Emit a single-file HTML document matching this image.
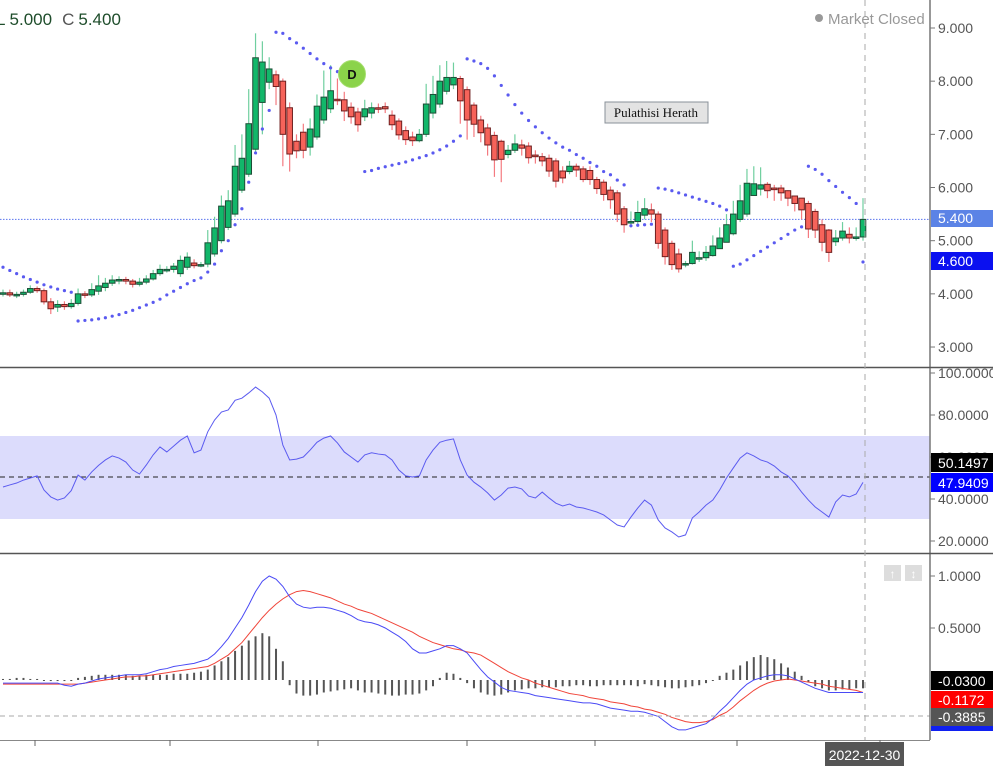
<!DOCTYPE html>
<html><head><meta charset="utf-8">
<style>
html,body{margin:0;padding:0;background:#fff;}
svg{display:block;font-family:"Liberation Sans",sans-serif;}
</style></head>
<body>
<svg id="chart" width="993" height="766" viewBox="0 0 993 766">
  <rect x="0" y="0" width="993" height="766" fill="#fff"/>
  <rect x="0" y="436" width="930" height="83" fill="#dcdcfc"/>
  <g id="price"></g><g id="rsi"></g><g id="macd"></g><g id="axes"></g>
</svg>
<script>
const openP=[4.00,4.02,3.98,3.99,4.03,4.10,4.06,3.85,3.75,3.80,3.76,3.82,4.00,3.98,4.05,4.12,4.20,4.26,4.27,4.24,4.18,4.22,4.28,4.38,4.46,4.46,4.38,4.50,4.58,4.55,4.56,4.75,5.00,5.25,5.50,5.95,6.25,6.72,7.60,7.98,8.12,8.00,7.50,6.87,7.04,6.76,6.95,7.27,7.48,7.66,7.65,7.51,7.42,7.33,7.40,7.50,7.52,7.36,7.25,7.07,6.95,6.88,7.00,7.40,7.57,7.81,7.93,8.05,7.84,7.55,7.27,7.12,6.98,6.87,6.62,6.70,6.80,6.78,6.61,6.58,6.55,6.50,6.31,6.30,6.40,6.35,6.32,6.15,6.10,5.95,5.90,5.60,5.35,5.36,5.48,5.58,5.50,5.20,4.95,4.75,4.57,4.57,4.68,4.68,4.72,4.85,4.97,5.13,5.40,5.50,5.85,5.97,6.06,5.99,5.99,5.94,5.84,5.80,5.70,5.55,5.30,5.20,4.98,5.05,5.12,5.07,5.07];
const closeP=[4.02,3.98,3.99,4.03,4.10,4.06,3.85,3.72,3.80,3.76,3.82,4.00,3.98,4.08,4.15,4.20,4.26,4.27,4.24,4.18,4.22,4.28,4.38,4.46,4.46,4.52,4.63,4.69,4.53,4.55,4.96,5.24,5.65,5.75,6.40,6.55,7.20,8.44,8.36,8.23,7.90,7.00,6.63,6.69,6.70,7.10,7.53,7.70,7.82,7.64,7.44,7.33,7.18,7.48,7.50,7.49,7.48,7.18,6.99,6.90,6.88,7.00,7.57,7.75,8.00,8.07,8.07,7.63,7.27,7.19,7.03,6.80,6.52,6.53,6.70,6.82,6.74,6.56,6.58,6.50,6.31,6.12,6.18,6.40,6.33,6.15,6.15,5.98,5.87,5.77,5.50,5.30,5.36,5.53,5.60,5.50,4.95,4.70,4.55,4.47,4.57,4.78,4.68,4.78,4.90,5.05,5.30,5.50,5.75,6.08,6.07,6.05,5.94,5.96,5.90,5.80,5.70,5.58,5.22,5.20,4.97,4.78,5.05,5.18,5.05,5.07,5.40];
const highP=[4.08,4.08,4.04,4.08,4.16,4.14,4.10,3.92,3.88,3.86,3.90,4.10,4.05,4.20,4.35,4.30,4.35,4.33,4.32,4.28,4.30,4.35,4.45,4.55,4.52,4.58,4.72,4.78,4.65,4.60,5.20,5.45,5.85,5.95,6.80,7.00,7.85,8.90,8.75,8.45,8.20,8.05,7.60,7.00,7.20,7.30,7.75,8.20,8.30,8.05,7.80,7.60,7.50,7.65,7.60,7.58,7.60,7.45,7.30,7.15,7.05,7.10,7.95,8.10,8.30,8.38,8.35,8.10,7.90,7.60,7.35,7.20,7.05,6.90,6.80,7.00,6.90,6.85,6.70,6.65,6.62,6.55,6.40,6.50,6.45,6.40,6.40,6.20,6.15,6.02,5.95,5.65,5.55,5.75,5.80,5.70,5.55,5.25,5.00,4.85,4.62,5.00,4.80,4.90,5.10,5.25,5.50,5.75,6.05,6.35,6.40,6.38,6.10,6.05,6.05,5.95,5.85,5.78,5.75,5.60,5.40,5.22,5.20,5.35,5.25,5.25,5.80];
const lowP=[3.95,3.94,3.92,3.95,4.00,4.02,3.80,3.62,3.66,3.70,3.72,3.78,3.92,3.94,3.98,4.05,4.15,4.18,4.18,4.12,4.14,4.18,4.25,4.34,4.40,4.40,4.32,4.45,4.48,4.50,4.50,4.70,4.95,5.20,5.45,5.90,6.20,6.65,7.00,7.85,7.55,6.40,6.30,6.55,6.55,6.60,6.90,7.20,7.40,7.55,7.25,7.20,7.05,7.25,7.30,7.40,7.40,7.08,6.90,6.80,6.78,6.85,6.95,7.30,7.50,7.75,7.85,7.20,6.90,6.95,6.85,6.60,6.20,6.10,6.55,6.65,6.60,6.45,6.45,6.40,6.20,6.00,6.08,6.25,6.20,6.10,6.05,5.88,5.75,5.60,5.35,5.15,5.25,5.30,5.40,5.35,4.85,4.55,4.45,4.40,4.50,4.55,4.60,4.62,4.70,4.85,5.00,5.10,5.35,5.45,5.85,5.85,5.80,5.75,5.75,5.65,5.55,5.40,5.05,5.05,4.80,4.60,4.90,5.00,4.95,5.00,5.00];
const psar=[4.50,4.44,4.38,4.32,4.27,4.22,4.17,4.13,4.09,4.06,4.03,3.49,3.50,3.51,3.53,3.55,3.58,3.61,3.65,3.69,3.74,3.79,3.84,3.90,3.98,4.05,4.12,4.19,4.25,4.30,4.41,4.56,4.81,5.00,5.30,5.60,6.10,6.65,7.10,7.45,8.92,8.90,8.80,8.72,8.62,8.52,8.42,8.33,8.25,8.18,8.12,8.06,8.00,6.30,6.32,6.36,6.39,6.42,6.45,6.48,6.52,6.56,6.60,6.65,6.71,6.78,6.87,6.97,8.42,8.38,8.33,8.24,8.10,7.92,7.74,7.56,7.40,7.26,7.14,7.03,6.93,6.84,6.76,6.70,6.62,6.55,6.47,6.40,6.30,6.24,6.14,6.05,5.28,5.29,5.30,5.31,5.99,5.97,5.94,5.90,5.86,5.82,5.78,5.74,5.70,5.65,5.58,4.52,4.56,4.64,4.72,4.80,4.88,4.96,5.04,5.12,5.20,5.26,6.40,6.34,6.25,6.13,6.02,5.91,5.81,5.70,4.60];
const rsiVals=[45.7,46.7,47.6,49,50,51,44.3,41,39.5,40.5,44,51.4,49,52.9,56,58.6,60.5,59.5,57.6,53.8,51.9,56.2,61,64.8,62.4,65.2,68,70,62,63.3,72,77.6,81.4,82.4,87,88,90.5,93.3,91,88,80,65.7,58.6,59,60,63.3,67,69,70,66.7,62.4,60,57.6,61,62,61.4,61,58.6,53.8,51,50.5,51,58.6,63.3,67,68,68.6,58.6,51.4,48,45.7,42.9,39.5,41.9,45.2,45.7,44.8,41.4,40.5,43.3,40.5,38,36.7,37.6,36.2,35.7,34.8,33.8,32.4,30,27.6,26.7,31.4,35.7,39.5,37.1,30,26.2,24.3,21.9,22.9,31,33.8,37.1,39.5,44.3,50,54.8,59.5,62,60.5,58.6,57.6,55.7,52.9,51,47.6,43.3,39.5,36.2,33.8,31.4,38.6,41.9,41,42.4,47.9];
const macdVals=[-0.03,-0.03,-0.03,-0.03,-0.03,-0.03,-0.03,-0.03,-0.03,-0.05,-0.06,-0.04,-0.03,-0.01,0.01,0.02,0.03,0.04,0.05,0.05,0.05,0.06,0.08,0.1,0.11,0.13,0.14,0.15,0.16,0.18,0.2,0.25,0.32,0.4,0.5,0.6,0.72,0.85,0.95,1.0,0.97,0.9,0.8,0.73,0.7,0.69,0.7,0.7,0.69,0.67,0.65,0.62,0.58,0.56,0.55,0.53,0.5,0.46,0.42,0.37,0.3,0.26,0.26,0.28,0.3,0.33,0.33,0.3,0.26,0.18,0.1,0.03,-0.02,-0.07,-0.1,-0.11,-0.12,-0.13,-0.15,-0.16,-0.17,-0.18,-0.19,-0.2,-0.21,-0.22,-0.22,-0.23,-0.25,-0.27,-0.28,-0.29,-0.3,-0.3,-0.31,-0.33,-0.35,-0.4,-0.45,-0.48,-0.48,-0.46,-0.44,-0.42,-0.37,-0.3,-0.24,-0.17,-0.1,-0.04,0.0,0.02,0.04,0.05,0.05,0.04,0.01,-0.02,-0.05,-0.08,-0.1,-0.12,-0.12,-0.12,-0.12,-0.12,-0.12];
const signalVals=[-0.04,-0.04,-0.04,-0.04,-0.04,-0.04,-0.04,-0.04,-0.04,-0.04,-0.04,-0.04,-0.03,-0.02,-0.01,0.0,0.01,0.02,0.03,0.03,0.04,0.04,0.05,0.06,0.07,0.08,0.09,0.1,0.11,0.12,0.13,0.16,0.2,0.24,0.3,0.36,0.44,0.52,0.6,0.67,0.73,0.78,0.82,0.85,0.86,0.85,0.83,0.81,0.79,0.76,0.73,0.71,0.68,0.66,0.64,0.61,0.58,0.55,0.52,0.49,0.46,0.42,0.39,0.36,0.34,0.32,0.3,0.29,0.27,0.26,0.24,0.2,0.16,0.12,0.08,0.05,0.02,0.0,-0.03,-0.05,-0.07,-0.09,-0.11,-0.13,-0.14,-0.15,-0.17,-0.18,-0.19,-0.21,-0.22,-0.23,-0.25,-0.26,-0.28,-0.29,-0.31,-0.33,-0.36,-0.38,-0.4,-0.41,-0.41,-0.4,-0.38,-0.34,-0.31,-0.26,-0.2,-0.15,-0.1,-0.06,-0.03,-0.01,0.0,0.01,0.0,-0.01,-0.02,-0.03,-0.04,-0.06,-0.07,-0.08,-0.09,-0.1,-0.12];
const histVals=[0.01,0.01,0.02,0.02,0.01,0.01,0,-0.01,-0.01,-0.01,0,0.02,0.03,0.04,0.05,0.05,0.05,0.05,0.05,0.04,0.04,0.05,0.05,0.05,0.05,0.06,0.06,0.06,0.07,0.08,0.1,0.14,0.18,0.22,0.28,0.33,0.38,0.42,0.45,0.42,0.3,0.18,-0.05,-0.13,-0.15,-0.15,-0.14,-0.12,-0.11,-0.1,-0.09,-0.08,-0.1,-0.12,-0.12,-0.13,-0.14,-0.15,-0.15,-0.14,-0.14,-0.13,-0.1,-0.06,0.02,0.07,0.06,0.02,-0.03,-0.08,-0.12,-0.14,-0.15,-0.14,-0.12,-0.1,-0.09,-0.08,-0.08,-0.07,-0.07,-0.07,-0.06,-0.06,-0.05,-0.05,-0.06,-0.06,-0.05,-0.05,-0.05,-0.05,-0.05,-0.06,-0.04,-0.05,-0.06,-0.07,-0.08,-0.08,-0.07,-0.06,-0.05,-0.03,0.0,0.04,0.07,0.1,0.14,0.18,0.22,0.24,0.22,0.2,0.16,0.12,0.08,0.04,-0.02,-0.06,-0.08,-0.1,-0.1,-0.09,-0.09,-0.08,-0.08];
const priceTicks=[9,8,7,6,5,4,3];
const rsiTicks=[100,80,60,40,20];
const macdTicks=[1.0,0.5];

const NS="http://www.w3.org/2000/svg";
const n=closeP.length;
const xS=i=>3+i*(860/(n-1));
const yP=p=>28+(9-p)*53.17;
const yR=r=>373+(100-r)*2.1;
const yM=v=>680-v*104;
function mk(parent,tag,attrs,text){const e=document.createElementNS(NS,tag);for(const k in attrs)e.setAttribute(k,attrs[k]);if(text!==undefined)e.textContent=text;parent.appendChild(e);return e;}
const gP=document.getElementById('price'),gR=document.getElementById('rsi'),gM=document.getElementById('macd'),gA=document.getElementById('axes');

let ln=mk(gP,'line',{x1:0,x2:930,y1:yP(5.4),y2:yP(5.4),stroke:'#5a74ee','stroke-dasharray':'1.5,1.5','stroke-width':1});



for(let i=0;i<n;i++){
  const up=closeP[i]>=openP[i];
  const x=xS(i);
  const g=mk(gP,'g',{});
  
  
  mk(g,'line',{x1:x,x2:x,y1:yP(highP[i]),y2:yP(lowP[i]),stroke:up?'#6fcf9f':'#f47a80','stroke-width':1.2});
  const t=yP(Math.max(openP[i],closeP[i])),b=yP(Math.min(openP[i],closeP[i]));
  mk(g,'rect',{x:x-2.8,y:t,width:5.6,height:Math.max(1.5,b-t),fill:up?'#12b76a':'#f6635a',stroke:up?'#1d4d36':'#6e2020','stroke-width':1});
}
for(let i=0;i<n;i++){
  const d=mk(gP,'circle',{cx:xS(i),cy:yP(psar[i]),r:1.6,fill:'#5a5af0'});
  
  
}
let dm=mk(gP,'g',{});


mk(dm,'circle',{cx:352,cy:74,r:13.5,fill:'#8bd34a',stroke:'#a6de6f','stroke-width':1});
mk(dm,'text',{x:352,y:79,'text-anchor':'middle','font-size':13,'font-weight':'bold',fill:'#111'},'D');

let dl=mk(gR,'line',{x1:0,x2:930,y1:477,y2:477,stroke:'#222','stroke-dasharray':'5,4'});


let rp=mk(gR,'polyline',{points:rsiVals.map((v,i)=>xS(i)+','+yR(v)).join(' '),fill:'none',stroke:'#5b5bf0','stroke-width':1});



for(let i=0;i<n;i++){
  const y0=yM(0),y1=yM(histVals[i]);
  const b=mk(gM,'rect',{x:xS(i)-1,y:Math.min(y0,y1),width:2,height:Math.max(1,Math.abs(y1-y0)),fill:'#555'});
  
  
}
let sp=mk(gM,'polyline',{points:signalVals.map((v,i)=>xS(i)+','+yM(v)).join(' '),fill:'none',stroke:'#f0453a','stroke-width':1});


let mp=mk(gM,'polyline',{points:macdVals.map((v,i)=>xS(i)+','+yM(v)).join(' '),fill:'none',stroke:'#4a4af5','stroke-width':1});


let hz=mk(gM,'line',{x1:0,x2:930,y1:716,y2:716,stroke:'#aaa','stroke-dasharray':'5,4'});



mk(gA,'line',{x1:930,x2:930,y1:0,y2:740,stroke:'#777','stroke-width':1.5});
mk(gA,'line',{x1:0,x2:993,y1:367.5,y2:367.5,stroke:'#555','stroke-width':1.5});
mk(gA,'line',{x1:0,x2:993,y1:553.5,y2:553.5,stroke:'#555','stroke-width':1.5});
mk(gA,'line',{x1:0,x2:930,y1:740.5,y2:740.5,stroke:'#888','stroke-width':1});
let vc=mk(gA,'line',{x1:865,x2:865,y1:0,y2:740,stroke:'#aaa','stroke-dasharray':'6,5'});


[35,170,318,467,595,737,880].forEach(x=>mk(gA,'line',{x1:x,x2:x,y1:740,y2:746,stroke:'#666'}));

function tickLabel(y,txt,name){
  mk(gA,'line',{x1:930,x2:935,y1:y,y2:y,stroke:'#777'});
  const t=mk(gA,'text',{x:938,y:y+5,'font-size':14,fill:'#555'},txt);
  
  
}
priceTicks.forEach(p=>tickLabel(yP(p),p.toFixed(3),'price-tick-label'));
rsiTicks.forEach(r=>tickLabel(yR(r),r.toFixed(4),'rsi-tick-label'));
macdTicks.forEach(v=>tickLabel(yM(v),v.toFixed(4),'macd-tick-label'));

function badge(y,h,bg,txt,name,fs){
  const g=mk(gA,'g',{});
  
  
  mk(g,'rect',{x:931,y:y,width:62,height:h,fill:bg});
  mk(g,'text',{x:938,y:y+h-4,'font-size':fs||14,fill:'#fff'},txt);
}
badge(210,17,'#5b83e6','5.400','last-price-badge');
badge(252,18,'#0a10f0','4.600','psar-badge');
badge(453,19,'#000','50.1497','rsi-crosshair-badge');
badge(473,19,'#0000ff','47.9409','rsi-value-badge');
badge(725,6,'#1020f0','','macd-value-badge');
badge(671,19,'#000','-0.0300','histogram-badge');
badge(691,18,'#f00','-0.1172','signal-badge');
badge(708,18,'#555','-0.3885','crosshair-value-badge');

let db=mk(gA,'g',{});


mk(db,'rect',{x:825,y:742,width:79,height:24,fill:'#555'});
mk(db,'text',{x:864.5,y:760,'text-anchor':'middle','font-size':14,fill:'#fff'},'2022-12-30');

let ohlc=mk(gA,'text',{x:-4,y:25,'font-size':17,fill:'#1e4d2b'});


ohlc.innerHTML='<tspan>L 5.000</tspan><tspan dx="10" fill="#555">C</tspan><tspan dx="4">5.400</tspan>';
let mc=mk(gA,'g',{});


mk(mc,'circle',{cx:819,cy:18,r:4,fill:'#999'});
mk(mc,'text',{x:828,y:24,'font-size':15,fill:'#999'},'Market Closed');

let nb=mk(gA,'g',{});


mk(nb,'rect',{x:605,y:102,width:103,height:21,fill:'#e3e3e3',stroke:'#8a9098','stroke-width':1});
mk(nb,'text',{x:656,y:117,'text-anchor':'middle','font-size':13,'font-family':'Liberation Serif, serif',fill:'#111'},'Pulathisi Herath');

[[884,'↑','scale-up-button'],[905,'↕','scale-fit-button']].forEach(([x,s,name])=>{
  const g=mk(gA,'g',{});
  
  
  mk(g,'rect',{x:x,y:565,width:17,height:16,fill:'#ddd'});
  mk(g,'text',{x:x+8.5,y:578,'text-anchor':'middle','font-size':12,fill:'#fff','font-weight':'bold'},s);
});
</script>
</body></html>
